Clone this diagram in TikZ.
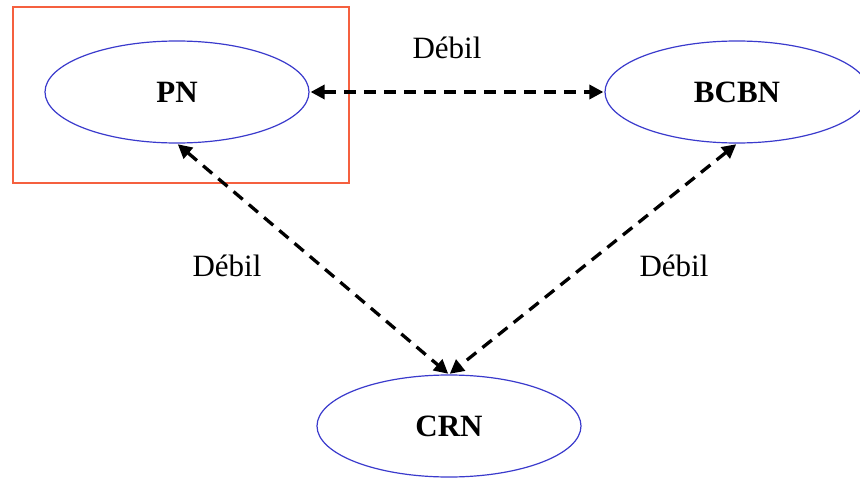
\documentclass[tikz,border=0pt]{standalone}
\usepackage{fontspec}
\setmainfont{Liberation Serif}
\usetikzlibrary{arrows.meta,shapes.geometric}
\definecolor{ellblue}{HTML}{3A3ACC}
\definecolor{boxred}{HTML}{F5603F}
\tikzset{
  ent/.style={draw=ellblue,line width=1.2pt,ellipse,minimum width=264pt,minimum height=102pt,inner sep=0pt,font=\fontsize{31}{36}\selectfont\bfseries},
  rel/.style={line width=3.3pt,dash pattern=on 12pt off 8pt,{Triangle[length=14pt,width=14pt]}-{Triangle[length=14pt,width=14pt]},shorten <=1pt,shorten >=1pt},
  lbl/.style={font=\fontsize{31}{36}\selectfont},
  redbox/.style={draw=boxred,line width=1.1pt}
}
\begin{document}
\begin{tikzpicture}[x=1pt,y=-1pt]
\useasboundingbox (0,0) rectangle (860,479);
\clip (0,0) rectangle (860,479);
\node[redbox,minimum width=336pt,minimum height=176pt,inner sep=0pt] (box) at (181,95) {};
\node[ent] (PN) at (177,92) {PN};
\node[ent] (BCBN) at (737,92) {BCBN};
\node[ent] (CRN) at (449,426) {CRN};
\draw[rel] (PN) -- (BCBN);
\draw[rel] (PN.south) -- (CRN.north);
\draw[rel] (BCBN.south) -- (CRN.north);
\node[lbl] (l1) at (447,48) {Débil};
\node[lbl] (l2) at (227,266) {Débil};
\node[lbl] (l3) at (674,266) {Débil};
\end{tikzpicture}
\end{document}
